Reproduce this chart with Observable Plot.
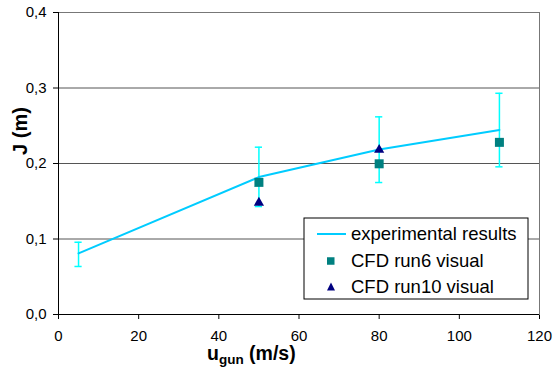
<!DOCTYPE html>
<html><head><meta charset="utf-8">
<script src="https://cdn.jsdelivr.net/npm/d3@7"></script>
<script src="https://cdn.jsdelivr.net/npm/@observablehq/plot@0.6"></script>
<style>
body{margin:0;background:#fff;}
#chart svg{font-family:"Liberation Sans", Arial, sans-serif;}
</style>
</head><body><div id="chart"></div>
<script>
// Data
const uGun = [5, 50, 80, 110];
const jExp = [0.081, 0.182, 0.2185, 0.2445];
const jExpLow = [0.0636, 0.143, 0.1748, 0.1956];
const jExpHigh = [0.0957, 0.2216, 0.2618, 0.293];
const uRun6 = [50, 80, 110];
const jRun6 = [0.175, 0.1996, 0.228];
const uRun10 = [50, 80];
const jRun10 = [0.15, 0.22];
const xTicks = [0, 20, 40, 60, 80, 100, 120];
const yTicks = [0, 0.1, 0.2, 0.3, 0.4];
const seriesNames = ["experimental results", "CFD run6 visual", "CFD run10 visual"];
const yTitle = "J (m)";
const xTitleMain = "u", xTitleSub = "gun", xTitleRest = " (m/s)";

const exp = uGun.map((u, i) => ({u, j: jExp[i], lo: jExpLow[i], hi: jExpHigh[i]}));
const run6 = uRun6.map((u, i) => ({u, j: jRun6[i]}));
const run10 = uRun10.map((u, i) => ({u, j: jRun10[i]}));

const lineColor = "#00ccff", errColor = "#00ffff", sqColor = "#008080", triColor = "#000080";
const capHalf = 0.9;

const plot = Plot.plot({
  width: 554, height: 372,
  marginLeft: 58, marginRight: 15, marginTop: 12, marginBottom: 58,
  style: {fontFamily: '"Liberation Sans", Arial, sans-serif', fontSize: "15px", color: "#000", background: "#fff", overflow: "visible"},
  x: {domain: [0, 120], ticks: xTicks, tickSize: 5, tickPadding: 11, label: null},
  y: {domain: [0, 0.4], ticks: yTicks, tickSize: 5, tickPadding: 7, label: null,
      tickFormat: d => d.toFixed(1).replace(".", ",")},
  marks: [
    Plot.ruleY(yTicks.slice(1), {stroke: "#555", strokeWidth: 1}),
    Plot.frame({stroke: "#777"}),
    Plot.ruleX([0], {stroke: "#000"}),
    Plot.ruleY([0], {stroke: "#000"}),
    Plot.ruleX(exp, {x: "u", y1: "lo", y2: "hi", stroke: errColor, strokeWidth: 1.5}),
    Plot.ruleY(exp, {y: "lo", x1: d => d.u - capHalf, x2: d => d.u + capHalf, stroke: errColor, strokeWidth: 1.5}),
    Plot.ruleY(exp, {y: "hi", x1: d => d.u - capHalf, x2: d => d.u + capHalf, stroke: errColor, strokeWidth: 1.5}),
    Plot.line(exp, {x: "u", y: "j", stroke: lineColor, strokeWidth: 2}),
    Plot.dot(run6, {x: "u", y: "j", symbol: "square", r: 5.08, fill: sqColor, stroke: "none"}),
    Plot.dot(run10, {x: "u", y: "j", symbol: "triangle", r: 3.8, fill: triColor, stroke: "none", dy: 1.5})
  ]
});
document.getElementById("chart").append(plot);

const svg = d3.select(plot);
const font = '"Liberation Sans", Arial, sans-serif';

// Axis titles
const xt = svg.append("text").attr("x", 207).attr("y", 360).attr("text-anchor", "start")
  .attr("font-family", font).attr("font-weight", "bold").attr("font-size", 19.5).attr("fill", "#000");
xt.append("tspan").text(xTitleMain);
xt.append("tspan").attr("font-size", 13.5).attr("dy", 4).text(xTitleSub);
xt.append("tspan").attr("dy", -4).text(xTitleRest);

svg.append("text").attr("transform", "translate(27,131) rotate(-90)")
  .attr("text-anchor", "middle").attr("font-family", font).attr("font-weight", "bold")
  .attr("font-size", 20).attr("fill", "#000").text(yTitle);

// Legend
const lg = svg.append("g");
lg.append("rect").attr("x", 304).attr("y", 218).attr("width", 224).attr("height", 81)
  .attr("fill", "#fff").attr("stroke", "#000").attr("stroke-width", 1);
const rowY = [234, 261, 287];
lg.append("line").attr("x1", 317).attr("x2", 346).attr("y1", rowY[0]).attr("y2", rowY[0])
  .attr("stroke", lineColor).attr("stroke-width", 2);
lg.append("rect").attr("x", 327).attr("y", rowY[1] - 3.75).attr("width", 7.5).attr("height", 7.5).attr("fill", sqColor);
lg.append("path").attr("d", `M331,${rowY[2] - 4.5} L335,${rowY[2] + 3.5} L327,${rowY[2] + 3.5} Z`).attr("fill", triColor);
seriesNames.forEach((s, i) => {
  lg.append("text").attr("x", 351).attr("y", rowY[i]).attr("dy", "0.35em").attr("text-anchor", "start")
    .attr("font-family", font).attr("font-size", 18.5).attr("fill", "#000").text(s);
});
</script>
</body></html>
